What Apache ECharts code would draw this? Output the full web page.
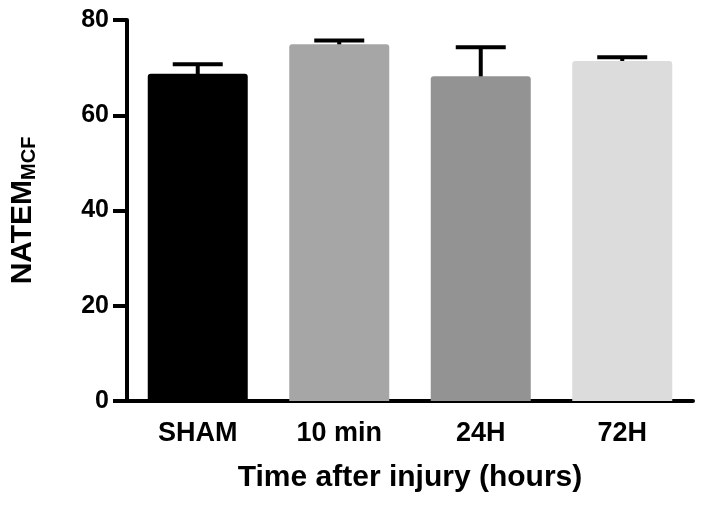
<!DOCTYPE html>
<html><head><meta charset="utf-8">
<script src="https://cdn.jsdelivr.net/npm/echarts@6/dist/echarts.min.js"></script>
<style>html,body{margin:0;padding:0;background:#fff}#c{width:704px;height:508px}</style>
</head><body><div id="c"></div>
<script>
const categories = ['SHAM', '10 min', '24H', '72H'];
const means = [68.7, 74.9, 68.2, 71.4];
const errUpper = [70.7, 75.7, 74.3, 72.2];
const barColors = ['#000000', '#a6a6a6', '#939393', '#dcdcdc'];
const yTicks = [0, 20, 40, 60, 80];

const FONT = '"Liberation Sans", Arial, sans-serif';
const chart = echarts.init(document.getElementById('c'), null, {renderer: 'canvas'});
chart.setOption({
  animation: false,
  grid: {left: 123, right: 11, top: 20, bottom: 107},
  xAxis: {
    type: 'category', data: categories,
    axisLine: {lineStyle: {color: '#000', width: 4}},
    axisTick: {alignWithLabel: true, length: 10, lineStyle: {color: '#000', width: 4}},
    axisLabel: {color: '#000', fontFamily: FONT, fontWeight: 'bold', fontSize: 27, margin: 19},
    name: 'Time after injury (hours)', nameLocation: 'middle', nameGap: 62,
    nameTextStyle: {color: '#000', fontFamily: FONT, fontWeight: 'bold', fontSize: 30}
  },
  yAxis: {
    type: 'value', min: yTicks[0], max: yTicks[yTicks.length - 1], interval: 20,
    splitLine: {show: false},
    axisLine: {show: true, lineStyle: {color: '#000', width: 4}},
    axisTick: {show: true, length: 14, lineStyle: {color: '#000', width: 4}},
    axisLabel: {color: '#000', fontFamily: FONT, fontWeight: 'bold', fontSize: 25, margin: 18},
    name: '{b|NATEM}{s|MCF}', nameLocation: 'middle', nameGap: 88, nameRotate: 90,
    nameTextStyle: {
      rich: {
        b: {color: '#000', fontFamily: FONT, fontWeight: 'bold', fontSize: 30},
        s: {color: '#000', fontFamily: FONT, fontWeight: 'bold', fontSize: 20, verticalAlign: 'bottom', padding: [12, 0, 0, 0]}
      }
    }
  },
  series: [
    {
      type: 'bar', barWidth: 100,
      data: means.map((v, i) => ({value: v, itemStyle: {color: barColors[i], borderRadius: [3, 3, 0, 0]}})),
      z: 2
    },
    {
      type: 'custom', z: 1,
      data: categories.map((c, i) => [i, means[i], errUpper[i]]),
      renderItem: function (params, api) {
        const x = api.coord([api.value(0), 0])[0];
        const yLow = api.coord([api.value(0), api.value(1)])[1] + 3;
        const yHigh = api.coord([api.value(0), api.value(2)])[1];
        const half = 25;
        const style = {stroke: '#000', lineWidth: 4};
        return {
          type: 'group',
          children: [
            {type: 'line', shape: {x1: x, y1: yLow, x2: x, y2: yHigh}, style: style},
            {type: 'line', shape: {x1: x - half, y1: yHigh, x2: x + half, y2: yHigh}, style: style}
          ]
        };
      }
    }
  ]
});
</script></body></html>
